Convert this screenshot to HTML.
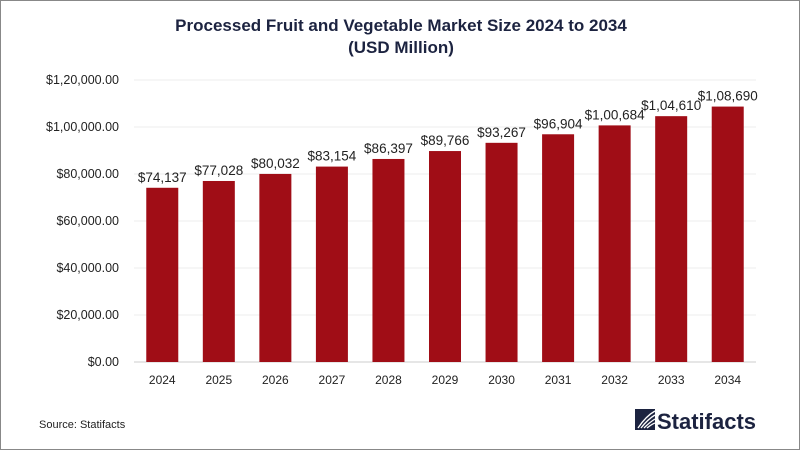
<!DOCTYPE html>
<html><head><meta charset="utf-8"><style>
html,body{margin:0;padding:0;background:#fff}
#wrap{position:relative;width:800px;height:450px;box-sizing:border-box;border:1px solid #888;overflow:hidden;font-family:"Liberation Sans",sans-serif}
</style></head><body>
<div id="wrap">
<svg id="chart" width="800" height="450">
<text x="400" y="30" text-anchor="middle" font-size="17" font-weight="bold" fill="#1c2340">Processed Fruit and Vegetable Market Size 2024 to 2034</text>
<text x="400" y="52" text-anchor="middle" font-size="17" font-weight="bold" fill="#1c2340">(USD Million)</text>
<g id="grid"></g><g id="bars"></g><g id="labels"></g>
<text x="38" y="427" font-size="11" fill="#222">Source: Statifacts</text>
<g>
<rect x="634" y="408" width="20" height="21" fill="#1c2340"/>
<path d="M637 427 Q645 415 654 410 M640 427 Q647 418 654 414 M643 427 Q649 421 654 418 M646 427 Q651 423 654 422" stroke="#fff" stroke-width="1.3" fill="none"/>
<text x="656" y="428" font-size="22" font-weight="bold" fill="#1c2340">Statifacts</text>
</g>
</svg>
</div>
<script>
const categories=["2024","2025","2026","2027","2028","2029","2030","2031","2032","2033","2034"];
const values=[74137,77028,80032,83154,86397,89766,93267,96904,100684,104610,108690];
const valueLabels=["$74,137","$77,028","$80,032","$83,154","$86,397","$89,766","$93,267","$96,904","$1,00,684","$1,04,610","$1,08,690"];
const tickValues=[0,20000,40000,60000,80000,100000,120000];
const tickLabels=["$0.00","$20,000.00","$40,000.00","$60,000.00","$80,000.00","$1,00,000.00","$1,20,000.00"];
const NS="http://www.w3.org/2000/svg";
const x0=133,x1=755,y0=361,y1=79,yMax=120000;
const band=(x1-x0)/categories.length;
const y=v=>y0-(v/yMax)*(y0-y1);
const xc=i=>x0+band*(i+0.5);
function mk(t,a,p){const e=document.createElementNS(NS,t);for(const k in a)e.setAttribute(k,a[k]);p.appendChild(e);return e;}
const grid=document.getElementById('grid'),bars=document.getElementById('bars'),labels=document.getElementById('labels');
tickValues.forEach((v,i)=>{
 const l=mk('line',{x1:x0,x2:x1,y1:y(v),y2:y(v),stroke:i==0?'#ccc':'#eee','stroke-width':1},grid);
 
 
 const t=mk('text',{x:118,y:y(v)+4,'text-anchor':'end','font-size':12.5,fill:'#222'},grid);
 t.textContent=tickLabels[i];
 
 
});
categories.forEach((c,i)=>{
 const r=mk('rect',{x:xc(i)-16,y:y(values[i]),width:32,height:y0-y(values[i]),fill:'#a00d16'},bars);
 
 
 const t=mk('text',{x:xc(i),y:y(values[i])-6,'text-anchor':'middle','font-size':13.5,fill:'#222'},labels);
 t.textContent=valueLabels[i];
 
 
 const xl=mk('text',{x:xc(i),y:383,'text-anchor':'middle','font-size':12,fill:'#222'},labels);
 xl.textContent=c;
 
 
});
</script>
</body></html>
